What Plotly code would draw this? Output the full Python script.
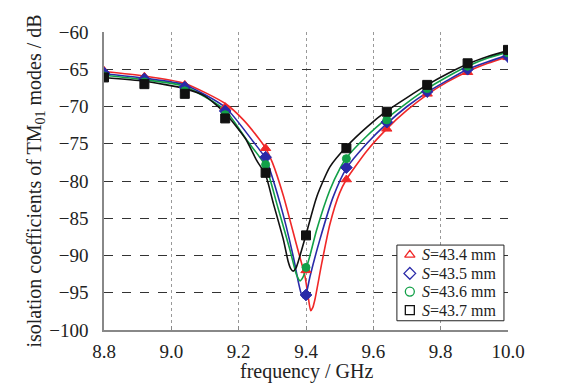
import plotly.graph_objects as go

# ---- data ----
marker_f = [8.80, 8.92, 9.04, 9.16, 9.28, 9.40, 9.52, 9.64, 9.76, 9.88, 10.0]

red_marker_db   = [-65.2, -66.0, -67.1, -70.1, -75.6, -92.0, -79.8, -73.0, -68.3, -65.4, -63.4]
blue_marker_db  = [-65.5, -66.3, -67.4, -70.6, -76.8, -95.3, -78.2, -72.1, -68.0, -65.0, -63.3]
green_marker_db = [-65.9, -66.7, -67.9, -71.1, -77.8, -91.6, -77.0, -71.8, -67.6, -64.6, -62.8]
black_marker_db = [-66.1, -67.0, -68.3, -71.6, -78.9, -87.3, -75.6, -70.7, -67.1, -64.2, -62.4]

red_curve_f  = [8.80, 8.92, 9.04, 9.16, 9.214, 9.263, 9.28, 9.30, 9.333, 9.372, 9.397, 9.407, 9.414,
                9.42, 9.427, 9.447, 9.471, 9.50, 9.52, 9.58, 9.64, 9.70, 9.76, 9.82, 9.88, 9.94, 10.0]
red_curve_db = [-65.3, -65.9, -66.9, -69.6, -71.8, -74.5, -75.6, -77.5, -82.0, -88.6, -92.8, -95.7, -97.4,
                -97.0, -95.8, -91.0, -85.8, -81.6, -79.8, -76.0, -73.0, -70.5, -68.4, -66.7, -65.3, -64.2, -63.3]

blue_curve_f  = [8.80, 8.92, 9.04, 9.16, 9.243, 9.28, 9.323, 9.362, 9.377, 9.385, 9.392, 9.40, 9.412,
                 9.441, 9.481, 9.52, 9.58, 9.64, 9.70, 9.76, 9.82, 9.88, 9.94, 10.0]
blue_curve_db = [-65.6, -66.2, -67.1, -70.1, -74.7, -77.0, -83.0, -90.1, -93.5, -95.0, -95.7, -95.2, -92.8,
                 -87.9, -82.1, -78.3, -75.0, -72.3, -70.0, -68.1, -66.5, -65.0, -64.0, -63.1]

green_curve_f  = [8.80, 8.92, 9.04, 9.16, 9.224, 9.28, 9.313, 9.352, 9.365, 9.372, 9.382, 9.39, 9.397,
                  9.41, 9.432, 9.471, 9.501, 9.52, 9.58, 9.64, 9.70, 9.76, 9.82, 9.88, 9.94, 10.0]
green_curve_db = [-65.8, -66.4, -67.3, -70.5, -74.5, -78.0, -83.0, -89.2, -91.5, -92.6, -93.4, -93.0, -92.2,
                  -90.3, -86.5, -81.2, -78.3, -76.9, -74.0, -71.6, -69.5, -67.6, -66.0, -64.6, -63.5, -62.7]

black_curve_f  = [8.80, 8.92, 9.04, 9.10, 9.16, 9.22, 9.253, 9.28, 9.303, 9.333, 9.347, 9.355, 9.362,
                  9.37, 9.377, 9.39, 9.40, 9.432, 9.471, 9.52, 9.58, 9.64, 9.70, 9.76, 9.82, 9.88, 9.94, 10.0]
black_curve_db = [-66.1, -66.6, -67.6, -68.6, -70.9, -74.3, -77.2, -79.2, -83.0, -87.9, -90.8, -91.8, -92.1,
                  -91.7, -90.8, -88.8, -87.2, -82.1, -78.1, -75.4, -72.8, -70.6, -68.8, -67.1, -65.6, -64.3, -63.3, -62.5]

series_names = ["<i>S</i>=43.4 mm", "<i>S</i>=43.5 mm", "<i>S</i>=43.6 mm", "<i>S</i>=43.7 mm"]
x_ticks = [8.8, 9.0, 9.2, 9.4, 9.6, 9.8, 10.0]
x_tick_text = ["8.8", "9.0", "9.2", "9.4", "9.6", "9.8", "10.0"]
y_ticks = [-100, -95, -90, -85, -80, -75, -70, -65, -60]
x_title = "frequency / GHz"
y_title = "isolation coefficients of TM<sub>01</sub> modes / dB"

# ---- styling ----
colors = ["#f02828", "#2a2aa8", "#12a048", "#111111"]
symbols = ["triangle-up", "diamond", "circle", "square"]
sizes = [9, 9, 8, 9]

curves = [(red_curve_f, red_curve_db), (blue_curve_f, blue_curve_db),
          (green_curve_f, green_curve_db), (black_curve_f, black_curve_db)]
markers = [red_marker_db, blue_marker_db, green_marker_db, black_marker_db]

fig = go.Figure()
for (cf, cd), c in zip(curves, colors):
    fig.add_trace(go.Scatter(x=cf, y=cd, mode="lines", line=dict(color=c, width=1.6, shape="spline", smoothing=0.6),
                             showlegend=False, hoverinfo="skip"))
for md, c, s, sz, nm in zip(markers, colors, symbols, sizes, series_names):
    fig.add_trace(go.Scatter(x=marker_f, y=md, mode="markers", name=nm,
                             marker=dict(color=c, symbol=s, size=sz, line=dict(color=c, width=1)),
                             showlegend=False))

# ---- hand-built legend box (layout positions in plot-area fractions, on an overlay axis) ----
font_family = "Liberation Serif, Times New Roman, serif"
leg_x0, leg_x1, leg_y0, leg_y1 = 0.725, 0.99, 0.031, 0.285
leg_sym_x, leg_txt_x = 0.757, 0.782
leg_rows_y = [0.252, 0.190, 0.129, 0.067]

fig.add_trace(go.Scatter(x=[leg_x0, leg_x1, leg_x1, leg_x0, leg_x0], y=[leg_y0, leg_y0, leg_y1, leg_y1, leg_y0],
                         xaxis="x2", yaxis="y2", mode="lines", fill="toself", fillcolor="white",
                         line=dict(color="#222", width=1), showlegend=False, hoverinfo="skip"))
fig.add_trace(go.Scatter(x=[leg_sym_x] * 4, y=leg_rows_y, xaxis="x2", yaxis="y2", mode="markers",
                         marker=dict(color="rgba(0,0,0,0)", symbol=symbols, size=9,
                                     line=dict(color=colors, width=1.3)),
                         showlegend=False, hoverinfo="skip", cliponaxis=False))
for nm, yy in zip(series_names, leg_rows_y):
    fig.add_annotation(x=leg_txt_x, y=yy, xref="paper", yref="paper", text=nm, showarrow=False,
                       xanchor="left", yanchor="middle", font=dict(family=font_family, size=16, color="#222"))

# x-axis title as an annotation for exact placement
fig.add_annotation(x=0.5, y=0, xref="paper", yref="paper", text=x_title, showarrow=False,
                   xanchor="center", yanchor="top", yshift=-28,
                   font=dict(family=font_family, size=20, color="#222"))

# page body has an 8px margin, so the figure is sized/positioned to compensate
fig.update_layout(
    width=556, height=376,
    margin=dict(l=96, r=56, t=24, b=54),
    paper_bgcolor="white", plot_bgcolor="white",
    font=dict(family=font_family, size=19, color="#222"),
    showlegend=False,
    xaxis=dict(range=[8.8, 10.0], tickvals=x_ticks, ticktext=x_tick_text,
               showgrid=True, gridcolor="#999", griddash="dot", gridwidth=1,
               showline=True, linecolor="#888", linewidth=1.5,
               ticks="inside", ticklen=4, tickcolor="#888", ticklabelstandoff=3,
               zeroline=False, automargin=False),
    yaxis=dict(range=[-100, -60], tickvals=y_ticks,
               showgrid=True, gridcolor="#333", griddash="dash", gridwidth=1,
               showline=True, linecolor="#888", linewidth=1.5,
               ticks="", zeroline=False, ticklabelstandoff=10, automargin=False,
               title=dict(text=y_title, standoff=2, font=dict(size=20))),
    xaxis2=dict(overlaying="x", range=[0, 1], visible=False, fixedrange=True),
    yaxis2=dict(overlaying="y", range=[0, 1], visible=False, fixedrange=True),
)

fig.write_html("out.html")
